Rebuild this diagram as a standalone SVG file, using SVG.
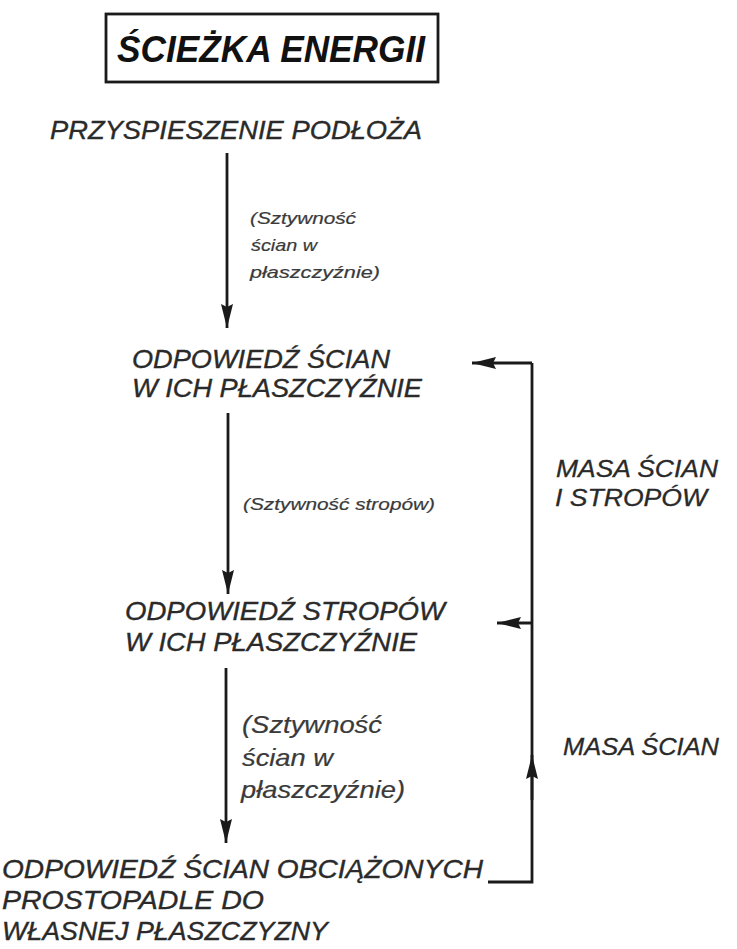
<svg xmlns="http://www.w3.org/2000/svg" width="737" height="949" viewBox="0 0 737 949">
  <style>
    .title { font-family: "Liberation Sans", Arial, sans-serif; font-size: 36px; font-weight: bold; font-style: italic; fill: #111; }
    .node { font-family: "Liberation Sans", Arial, sans-serif; font-size: 25px; font-style: italic; fill: #2a2a2a; stroke: #2a2a2a; stroke-width: 0.35; }
    .lbl { font-family: "Liberation Sans", Arial, sans-serif; font-style: italic; fill: #3a3a3a; stroke: #3a3a3a; stroke-width: 0.2; }
    .s { font-size: 17px; }
    .m { font-size: 23px; }
    .side { font-family: "Liberation Sans", Arial, sans-serif; font-size: 24px; font-style: italic; fill: #2a2a2a; stroke: #2a2a2a; stroke-width: 0.3; }
    .ln { stroke: #1a1a1a; stroke-width: 2.8; fill: none; }
    .box { stroke: #1a1a1a; stroke-width: 2.8; fill: #fff; }
  </style>
  <defs>
    <!-- filled arrowhead shared by all connectors -->
    <marker id="head" viewBox="0 0 24 12" refX="24" refY="6" markerWidth="24" markerHeight="12" markerUnits="userSpaceOnUse" orient="auto">
      <path d="M0,0 L24,6 L0,12 L3,6 Z" fill="#1a1a1a"/>
    </marker>
  </defs>
  <rect width="737" height="949" fill="#fff"/>

  <g id="title">
    <rect class="box" x="106" y="14" width="332" height="68"/>
    <text class="title" x="117" y="62" textLength="308" lengthAdjust="spacingAndGlyphs">ŚCIEŻKA ENERGII</text>
  </g>

  <g id="n1">
    <text class="node" x="50" y="139" textLength="372" lengthAdjust="spacingAndGlyphs">PRZYSPIESZENIE PODŁOŻA</text>
  </g>

  <g id="n2">
    <text class="node" x="132" y="368" textLength="258" lengthAdjust="spacingAndGlyphs">ODPOWIEDŹ ŚCIAN</text>
    <text class="node" x="132" y="397" textLength="290" lengthAdjust="spacingAndGlyphs">W ICH PŁASZCZYŹNIE</text>
  </g>

  <g id="n3">
    <text class="node" x="125" y="620" textLength="320" lengthAdjust="spacingAndGlyphs">ODPOWIEDŹ STROPÓW</text>
    <text class="node" x="125" y="651" textLength="292" lengthAdjust="spacingAndGlyphs">W ICH PŁASZCZYŹNIE</text>
  </g>

  <g id="n4">
    <text class="node" x="2" y="878" textLength="481" lengthAdjust="spacingAndGlyphs">ODPOWIEDŹ ŚCIAN OBCIĄŻONYCH</text>
    <text class="node" x="2" y="909" textLength="262" lengthAdjust="spacingAndGlyphs">PROSTOPADLE DO</text>
    <text class="node" x="2" y="940" textLength="326" lengthAdjust="spacingAndGlyphs">WŁASNEJ PŁASZCZYZNY</text>
  </g>

  <g id="connectors">
    <line class="ln" x1="227" y1="153" x2="227" y2="328" marker-end="url(#head)"/>
    <line class="ln" x1="228" y1="413" x2="228" y2="594" marker-end="url(#head)"/>
    <line class="ln" x1="226" y1="668" x2="226" y2="843" marker-end="url(#head)"/>
    <path class="ln" d="M488,882 H532 V363"/>
    <line class="ln" x1="532" y1="363" x2="472" y2="363" marker-end="url(#head)"/>
    <line class="ln" x1="532" y1="623" x2="497" y2="623" marker-end="url(#head)"/>
    <line class="ln" x1="532" y1="800" x2="532" y2="755" marker-end="url(#head)"/>
  </g>

  <g id="labels">
    <text class="lbl s" x="250" y="224" textLength="106" lengthAdjust="spacingAndGlyphs">(Sztywność</text>
    <text class="lbl s" x="251" y="251" textLength="66" lengthAdjust="spacingAndGlyphs">ścian w</text>
    <text class="lbl s" x="250" y="278" textLength="130" lengthAdjust="spacingAndGlyphs">płaszczyźnie)</text>
    <text class="lbl s" x="243" y="510" textLength="192" lengthAdjust="spacingAndGlyphs">(Sztywność stropów)</text>
    <text class="lbl m" x="242" y="733" textLength="140" lengthAdjust="spacingAndGlyphs">(Sztywność</text>
    <text class="lbl m" x="242" y="766" textLength="91" lengthAdjust="spacingAndGlyphs">ścian w</text>
    <text class="lbl m" x="241" y="798" textLength="164" lengthAdjust="spacingAndGlyphs">płaszczyźnie)</text>
    <text class="side" x="556" y="477" textLength="162" lengthAdjust="spacingAndGlyphs">MASA ŚCIAN</text>
    <text class="side" x="555" y="506" textLength="152" lengthAdjust="spacingAndGlyphs">I STROPÓW</text>
    <text class="side" x="563" y="755" textLength="156" lengthAdjust="spacingAndGlyphs">MASA ŚCIAN</text>
  </g>
</svg>
